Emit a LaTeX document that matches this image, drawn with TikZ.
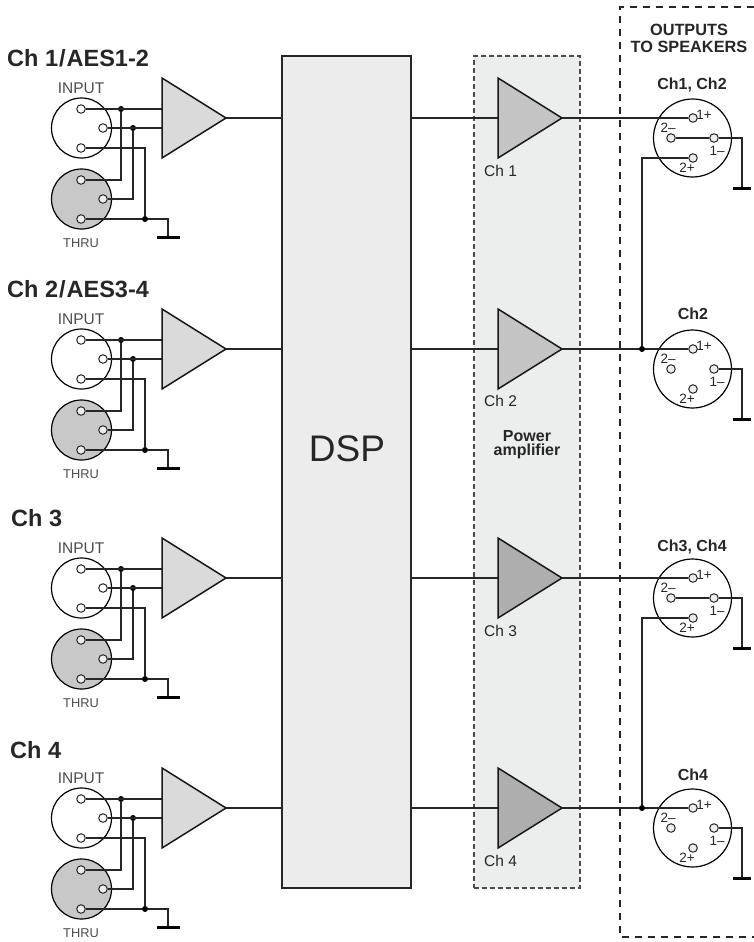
\documentclass[tikz,border=0pt]{standalone}
\usepackage{fontspec}
\setmainfont{Liberation Sans}
\definecolor{txt}{HTML}{262626}
\definecolor{inp}{HTML}{DADADA}
\definecolor{thr}{HTML}{C8C8C8}
\definecolor{ampa}{HTML}{C4C4C4}
\definecolor{ampb}{HTML}{ADAEAD}
\definecolor{panel}{HTML}{ECEDED}
\definecolor{dspc}{HTML}{ECECEC}
\definecolor{opin}{HTML}{EDEDED}
\tikzset{
  wire/.style={line width=1.3pt,line join=miter,black!85},
  pin/.style={circle,draw=black!85,line width=1pt,fill=#1,inner sep=0pt,minimum size=8.5pt},
  pin/.default=white,
  body/.style={circle,draw=black,line width=1.2pt,inner sep=0pt,minimum size=#1},
  dot/.style={circle,fill=black,inner sep=0pt,minimum size=6pt},
  bar/.style={line width=3pt,black},
  tri/.style={draw=black!90,line width=1.5pt,line join=miter},
  lab/.style={inner sep=0pt,text=txt,font=\fontsize{#1}{#1}\selectfont},
  blab/.style={inner sep=0pt,text=txt,align=center,font=\fontsize{#1}{#1}\bfseries\selectfont},
}
\begin{document}
\begin{tikzpicture}[x=1pt,y=-1pt]
\useasboundingbox (0,0) rectangle (754,942);
% panels
\node[draw=black!85,line width=1.2pt,fill=dspc,inner sep=0pt,minimum width=129pt,minimum height=832pt] (dsp) at (346.5,472) {};
\node[font=\fontsize{37}{37}\selectfont,text=txt,inner sep=0pt] (dsplabel) at (347,449) {DSP};
\node[draw=black!70,dash pattern=on 5pt off 3pt,line width=1.1pt,fill=panel,inner sep=0pt,minimum width=106pt,minimum height=832pt] (pa) at (527,472) {};
\draw[dash pattern=on 7pt off 6pt,line width=1.1pt,black!85] (754,7) -- (620,7) -- (620,937) -- (754,937);
\node[blab=16] (palabel) at (527,444.5) {Power\\[-2pt]amplifier};
\node[blab=16.3] (outlabel) at (689,38.5) {OUTPUTS\\[0.5pt]TO SPEAKERS};
% channel titles
\node[blab=23.5,anchor=west] (t1) at (7,58) {Ch 1\kern1pt/\kern1pt AES1-2};
\node[blab=23.5,anchor=west] (t2) at (7,289) {Ch 2\kern1pt/\kern1pt AES3-4};
\node[blab=23.5,anchor=west] (t3) at (11,518) {Ch 3};
\node[blab=23.5,anchor=west] (t4) at (10,750) {Ch 4};
% channels
\foreach \c/\yy/\ampcol/\alabel/\labdy in {1/118/ampa/Ch 1/53,2/349/ampa/Ch 2/52,3/578/ampb/Ch 3/53,4/808/ampb/Ch 4/53}{
  \begin{scope}[yshift=-\yy pt]
    % input block
    \node[body=60pt] (in\c) at (81.5,10) {};
    \node[body=60pt,fill=thr] (th\c) at (81.5,81) {};
    \node[lab=15.5,text=black!70] (inl\c) at (81,-30) {INPUT};
    \node[lab=12.8,text=black!70] (thl\c) at (81,125) {THRU};
    \node[pin] (ia\c) at (81,-9) {};
    \node[pin] (ib\c) at (103,10) {};
    \node[pin] (ic\c) at (81,30) {};
    \node[pin=opin] (ta\c) at (81,62) {};
    \node[pin=opin] (tb\c) at (103,81) {};
    \node[pin=opin] (tc\c) at (81,101) {};
    % input triangle
    \coordinate (ga\c) at (162,-40);
    \coordinate (gb\c) at (162,40);
    \coordinate (gc\c) at (226,0);
    \fill[inp] (ga\c) -- (gb\c) -- (gc\c) -- cycle;
    \node[dot] (ja\c) at (121,-9) {};
    \node[dot] (jb\c) at (133,10) {};
    \node[dot] (jc\c) at (145,101) {};
    \coordinate (gia\c) at (162,-9);
    \coordinate (gib\c) at (162,10);
    \draw[wire] (ia\c) -- (gia\c);
    \draw[wire] (ib\c) -- (gib\c);
    \draw[wire] (ta\c) -| (ja\c);
    \draw[wire] (tb\c) -| (jb\c);
    \draw[wire] (ic\c) -| (jc\c);
    \coordinate (gnd\c) at (168,119);
    \coordinate (gl\c) at (157,119);
    \coordinate (gr\c) at (180,119);
    \draw[wire] (tc\c) -- (jc\c) -| (gnd\c);
    \draw[bar] (gl\c) -- (gr\c);
    \draw[tri] (ga\c) -- (gb\c) -- (gc\c) -- cycle;
    \coordinate (dl\c) at (282,0);
    \draw[wire] (gc\c) -- (dl\c);
    % power amp
    \coordinate (aa\c) at (498,-40);
    \coordinate (ab\c) at (498,40);
    \coordinate (ac\c) at (562,0);
    \coordinate (ai\c) at (498,0);
    \coordinate (dr\c) at (411,0);
    \draw[wire] (dr\c) -- (ai\c);
    \draw[tri,fill=\ampcol] (aa\c) -- (ab\c) -- (ac\c) -- cycle;
    \node[lab=15.5,anchor=west] (al\c) at (484,\labdy) {\alabel};
    % output connector
    \node[body=78pt] (out\c) at (692.5,20) {};
    \node[pin=opin] (p1\c) at (693,0) {};
    \node[pin=opin] (m2\c) at (671,20) {};
    \node[pin=opin] (m1\c) at (714,20) {};
    \node[pin=opin] (p2\c) at (693,40) {};
    \node[lab=13.5] (lp1\c) at (704,-3) {1+};
    \node[lab=13.5] (lm2\c) at (668,10) {2–};
    \node[lab=13.5] (lm1\c) at (717,33) {1–};
    \node[lab=13.5] (lp2\c) at (687,50) {2+};
    \coordinate (og\c) at (742,70);
    \coordinate (ol\c) at (733,70);
    \coordinate (or\c) at (751,70);
    \draw[wire] (m1\c) -| (og\c);
    \draw[bar] (ol\c) -- (or\c);
    \draw[wire] (ac\c) -- (p1\c);
  \end{scope}
}
% shared wiring
\node[blab=16] (o12) at (692,85) {Ch1, Ch2};
\node[blab=16] (o2) at (693,314) {Ch2};
\node[blab=16] (o34) at (692,547) {Ch3, Ch4};
\node[blab=16] (o4) at (693,775) {Ch4};
\node[dot] (s12) at (642,349) {};
\node[dot] (s34) at (642,808) {};
\draw[wire] (m21) -- (m11);
\draw[wire] (m23) -- (m13);
\draw[wire] (p21) -| (s12);
\draw[wire] (p23) -| (s34);
\end{tikzpicture}
\end{document}
